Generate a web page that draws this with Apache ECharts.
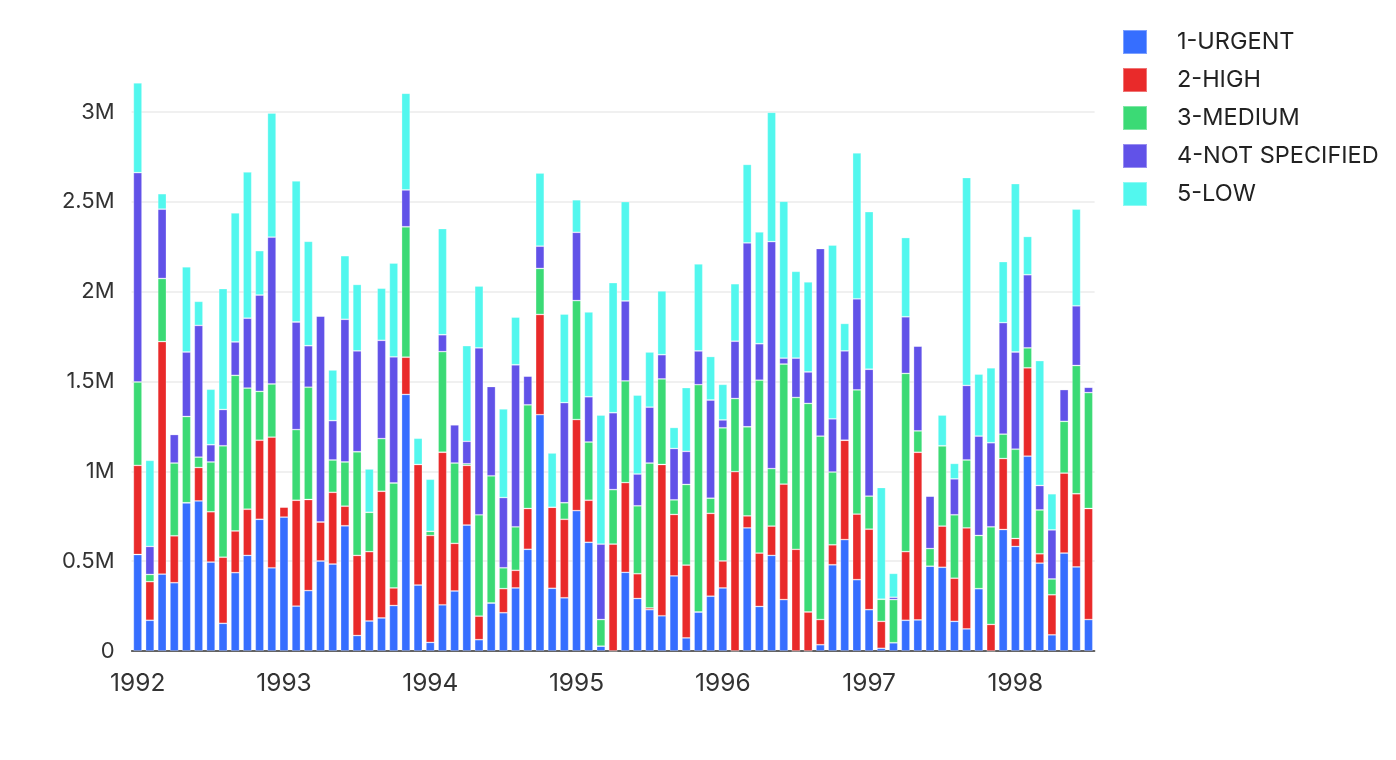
<!DOCTYPE html>
<html>
<head>
<meta charset="utf-8">
<script src="https://cdn.jsdelivr.net/npm/echarts@6/dist/echarts.min.js"></script>
<style>
  html, body { margin: 0; padding: 0; background: #fff; }
  #chart { width: 1396px; height: 760px; }
</style>
</head>
<body>
<div id="chart"></div>
<script>
// months, 1992-01 .. 1998-07
var months = [
  '1992-01','1992-02','1992-03','1992-04','1992-05','1992-06','1992-07','1992-08','1992-09','1992-10','1992-11','1992-12',
  '1993-01','1993-02','1993-03','1993-04','1993-05','1993-06','1993-07','1993-08','1993-09','1993-10','1993-11','1993-12',
  '1994-01','1994-02','1994-03','1994-04','1994-05','1994-06','1994-07','1994-08','1994-09','1994-10','1994-11','1994-12',
  '1995-01','1995-02','1995-03','1995-04','1995-05','1995-06','1995-07','1995-08','1995-09','1995-10','1995-11','1995-12',
  '1996-01','1996-02','1996-03','1996-04','1996-05','1996-06','1996-07','1996-08','1996-09','1996-10','1996-11','1996-12',
  '1997-01','1997-02','1997-03','1997-04','1997-05','1997-06','1997-07','1997-08','1997-09','1997-10','1997-11','1997-12',
  '1998-01','1998-02','1998-03','1998-04','1998-05','1998-06','1998-07'
];

// values in millions
var urgent = [
  0.537,0.171,0.428,0.38,0.825,0.835,0.495,0.154,0.436,0.532,0.733,0.463,
  0.745,0.25,0.336,0.501,0.484,0.697,0.086,0.167,0.184,0.253,1.428,0.367,
  0.048,0.257,0.334,0.701,0.063,0.267,0.213,0.351,0.566,1.315,0.349,0.296,
  0.781,0.605,0.027,0,0.438,0.292,0.23,0.196,0.418,0.073,0.217,0.305,
  0.351,0,0.685,0.248,0.532,0.286,0,0,0.035,0.48,0.62,0.397,
  0.23,0.015,0.046,0.171,0.173,0.472,0.466,0.165,0.123,0.347,0,0.676,
  0.582,1.084,0.489,0.09,0.545,0.468,0.175
];
var high = [
  0.496,0.215,1.294,0.261,0,0.186,0.28,0.368,0.232,0.257,0.44,0.727,
  0.057,0.589,0.507,0.217,0.399,0.109,0.446,0.386,0.705,0.098,0.207,0.671,
  0.595,0.849,0.265,0.332,0.131,0,0.134,0.098,0.227,0.558,0.451,0.437,
  0.507,0.234,0,0.595,0.499,0.138,0.01,0.842,0.342,0.405,0,0.461,
  0.15,0.998,0.067,0.297,0.163,0.643,0.566,0.217,0.14,0.111,0.553,0.365,
  0.448,0.15,0,0.382,0.933,0,0.229,0.24,0.562,0,0.148,0.395,
  0.044,0.492,0.052,0.223,0.445,0.407,0.618
];
var medium = [
  0.464,0.04,0.351,0.405,0.48,0.058,0.277,0.62,0.866,0.674,0.272,0.296,
  0,0.393,0.625,0,0.18,0.246,0.577,0.219,0.293,0.584,0.726,0,
  0.023,0.56,0.447,0.009,0.564,0.708,0.116,0.242,0.577,0.256,0,0.092,
  0.662,0.324,0.148,0.303,0.566,0.378,0.806,0.476,0.081,0.449,1.265,0.084,
  0.741,0.407,0.496,0.962,0.32,0.668,0.845,1.161,1.021,0.405,0,0.691,
  0.184,0.123,0.24,0.992,0.119,0.098,0.447,0.353,0.378,0.296,0.543,0.136,
  0.497,0.111,0.244,0.088,0.288,0.714,0.645
];
var notSpecified = [
  1.165,0.156,0.386,0.159,0.359,0.733,0.096,0.202,0.186,0.389,0.536,0.817,
  0,0.599,0.231,1.146,0.219,0.794,0.561,0,0.547,0.702,0.205,0,
  0,0.094,0.213,0.125,0.929,0.497,0.391,0.902,0.16,0.124,0,0.557,
  0.38,0.252,0.42,0.428,0.445,0.177,0.311,0.135,0.286,0.184,0.188,0.547,
  0.044,0.319,1.023,0.203,1.263,0.033,0.219,0.175,1.044,0.296,0.497,0.507,
  0.706,0,0.013,0.315,0.472,0.292,0,0.2,0.415,0.553,0.468,0.62,
  0.541,0.407,0.136,0.273,0.177,0.332,0.03
];
var low = [
  0.50,0.479,0.086,0,0.474,0.134,0.309,0.673,0.718,0.814,0.247,0.691,
  0,0.785,0.581,0,0.282,0.354,0.37,0.241,0.29,0.522,0.538,0.146,
  0.29,0.591,0,0.532,0.344,0,0.493,0.265,0,0.407,0.302,0.493,
  0.181,0.472,0.718,0.724,0.553,0.439,0.307,0.355,0.117,0.355,0.484,0.242,
  0.198,0.32,0.437,0.622,0.72,0.873,0.483,0.501,0,0.967,0.153,0.812,
  0.877,0.622,0.133,0.441,0,0,0.171,0.086,1.157,0.345,0.417,0.34,
  0.937,0.213,0.695,0.201,0,0.538,0
];

var names = ['1-URGENT', '2-HIGH', '3-MEDIUM', '4-NOT SPECIFIED', '5-LOW'];
var colors = ['#366eff', '#e92a2a', '#3bda75', '#6152e8', '#52f7ee'];
var yTicks = [0, 0.5, 1, 1.5, 2, 2.5, 3];

var seriesData = [urgent, high, medium, notSpecified, low];

var myChart = echarts.init(document.getElementById('chart'));
var option = {
  animation: false,
  color: colors,
  textStyle: { fontFamily: 'Inter, "Noto Sans", sans-serif' },
  legend: {
    orient: 'vertical',
    left: 1117,
    top: 24,
    itemWidth: 24,
    itemHeight: 24,
    itemGap: 12,
    icon: 'rect',
    selectedMode: false,
    textStyle: { fontSize: 23.5, lineHeight: 24, color: '#222', padding: [0, 0, 0, 25] },
    data: names
  },
  grid: { left: 131.6, right: 301.4, top: 76, bottom: 109 },
  xAxis: {
    type: 'category',
    data: months,
    axisTick: { show: false },
    axisLine: { lineStyle: { color: '#333', width: 1.5 } },
    axisLabel: {
      interval: 11,
      margin: 20,
      fontSize: 24.5,
      color: '#333',
      formatter: function (v) { return v.slice(0, 4); }
    }
  },
  yAxis: {
    type: 'value',
    min: 0,
    max: 3.2,
    interval: 0.5,
    axisLine: { show: false },
    axisTick: { show: false },
    axisLabel: {
      margin: 17,
      fontSize: 22,
      color: '#333',
      showMaxLabel: false,
      formatter: function (v) {
        if (yTicks.indexOf(v) < 0) return '';
        return v === 0 ? '0' : v + 'M';
      }
    },
    splitLine: {
      lineStyle: {
        color: ['#ebebeb', '#ebebeb', '#ebebeb', '#ebebeb', '#ebebeb', '#ebebeb', '#ebebeb', 'rgba(0,0,0,0)'],
        width: 1.5
      }
    }
  },
  series: names.map(function (n, i) {
    return {
      name: n,
      type: 'bar',
      stack: 'total',
      barCategoryGap: '29%',
      itemStyle: { borderColor: 'rgba(255,255,255,0.35)', borderWidth: 0.8 },
      data: seriesData[i]
    };
  })
};
myChart.setOption(option);
</script>
</body>
</html>
